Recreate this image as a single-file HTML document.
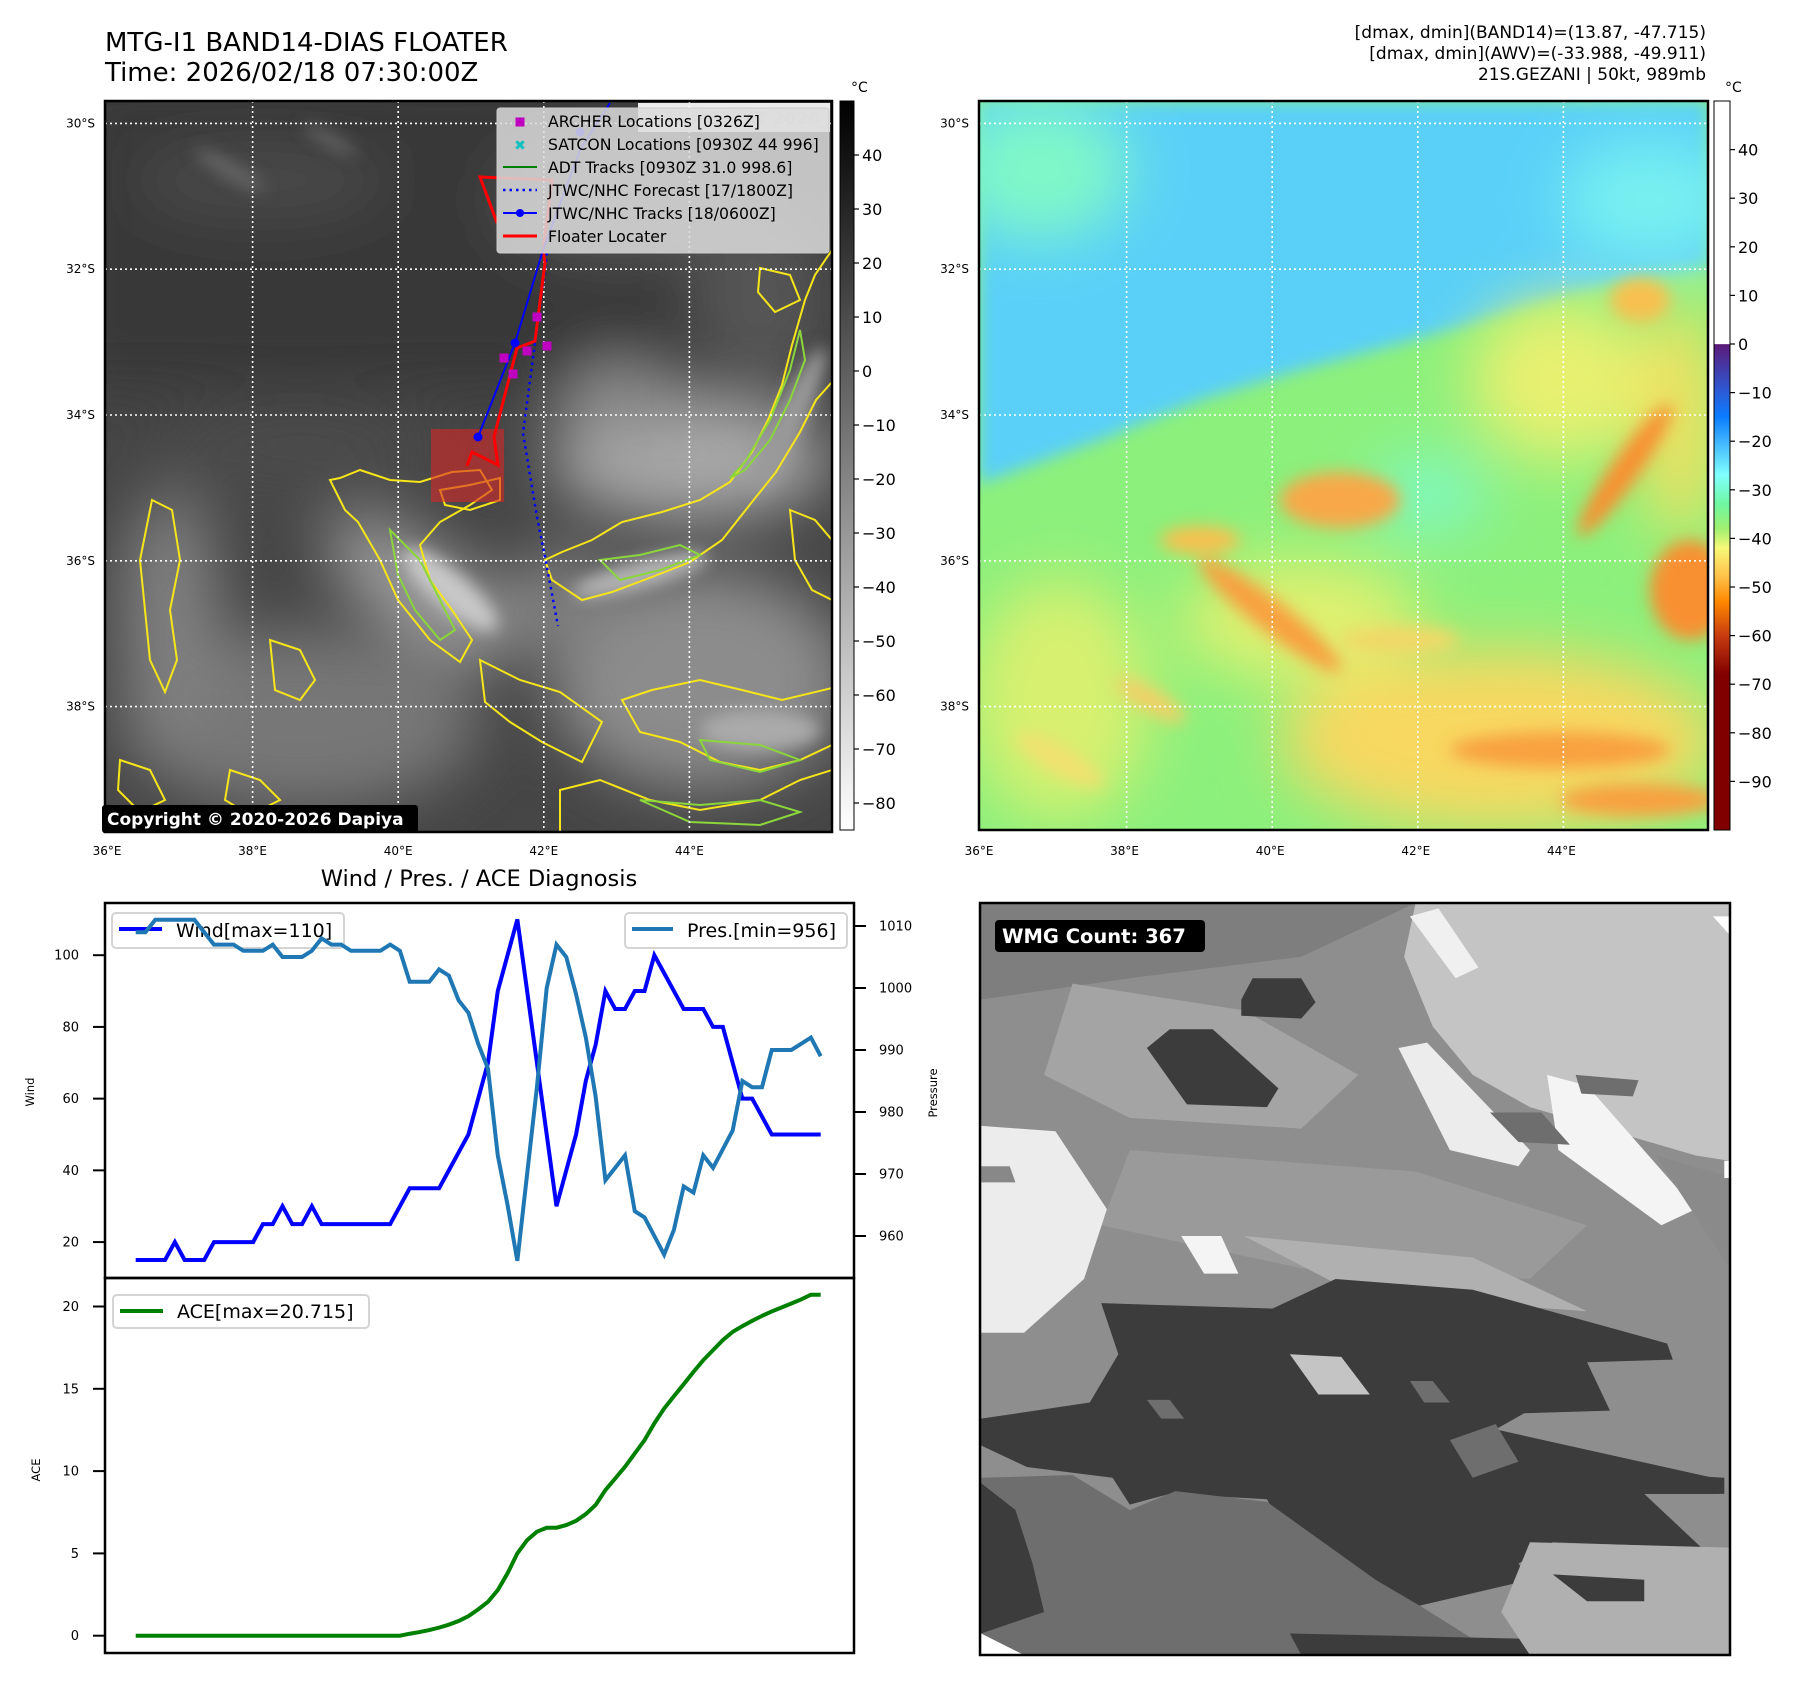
<!DOCTYPE html>
<html><head><meta charset="utf-8"><style>
html,body{margin:0;padding:0;background:#fff;}
svg{display:block;font-family:"DejaVu Sans","Liberation Sans",sans-serif;}
</style></head><body>
<svg id="fig" width="1797" height="1690" viewBox="0 0 1797 1690" xmlns="http://www.w3.org/2000/svg">
<defs>
<filter id="bl8" x="-50%" y="-50%" width="200%" height="200%"><feGaussianBlur stdDeviation="8"/></filter>
<filter id="bl30" x="-50%" y="-50%" width="200%" height="200%"><feGaussianBlur stdDeviation="30"/></filter>
<clipPath id="clipL"><rect x="105" y="101" width="727" height="731"/></clipPath>
<clipPath id="clipR"><rect x="979" y="101" width="729" height="729"/></clipPath>
<linearGradient id="cbL" x1="0" y1="0" x2="0" y2="1"><stop offset="0" stop-color="#000"/><stop offset="1" stop-color="#fff"/></linearGradient>
<linearGradient id="cbR" x1="0" y1="0" x2="0" y2="1">
<stop offset="0" stop-color="#fff"/><stop offset="0.333" stop-color="#fff"/><stop offset="0.334" stop-color="#5c1a7a"/>
<stop offset="0.4" stop-color="#2a5cd8"/><stop offset="0.433" stop-color="#0a7cff"/><stop offset="0.467" stop-color="#40b4ff"/>
<stop offset="0.513" stop-color="#80ffff"/><stop offset="0.553" stop-color="#70f8a0"/><stop offset="0.587" stop-color="#a0f070"/>
<stop offset="0.613" stop-color="#f8f878"/><stop offset="0.653" stop-color="#ffc048"/><stop offset="0.687" stop-color="#ff8800"/>
<stop offset="0.733" stop-color="#c83c10"/><stop offset="0.787" stop-color="#800000"/><stop offset="1" stop-color="#800000"/>
</linearGradient>
</defs>

<text x="105" y="51" font-size="26">MTG-I1 BAND14-DIAS FLOATER</text>
<text x="105" y="81" font-size="26">Time: 2026/02/18 07:30:00Z</text>
<g font-size="17" text-anchor="end">
<text x="1706" y="38">[dmax, dmin](BAND14)=(13.87, -47.715)</text>
<text x="1706" y="59">[dmax, dmin](AWV)=(-33.988, -49.911)</text>
<text x="1706" y="80">21S.GEZANI | 50kt, 989mb</text>
</g>

<g clip-path="url(#clipL)">
<rect x="105" y="101" width="727" height="731" fill="#464646"/>
<g filter="url(#bl30)">
<rect x="60" y="60" width="820" height="330" fill="#383838"/>
<ellipse cx="690" cy="460" rx="140" ry="60" fill="#a8a8a8"/>
<ellipse cx="620" cy="400" rx="60" ry="40" fill="#8a8a8a"/>
<ellipse cx="420" cy="590" rx="110" ry="45" fill="#9c9c9c" transform="rotate(35 420 590)"/>
<ellipse cx="700" cy="680" rx="150" ry="110" fill="#8c8c8c"/>
<ellipse cx="300" cy="720" rx="180" ry="90" fill="#777"/>
<ellipse cx="170" cy="620" rx="50" ry="130" fill="#808080"/>
<ellipse cx="560" cy="600" rx="60" ry="50" fill="#7e7e7e"/>
<ellipse cx="760" cy="300" rx="70" ry="90" fill="#555"/>
<ellipse cx="260" cy="180" rx="130" ry="40" fill="#4a4a4a"/>
<ellipse cx="620" cy="200" rx="120" ry="60" fill="#555"/>
<ellipse cx="300" cy="450" rx="140" ry="40" fill="#4c4c4c"/>
</g>
<g filter="url(#bl8)">
<ellipse cx="230" cy="170" rx="40" ry="7" fill="#6a6a6a" transform="rotate(30 230 170)"/>
<ellipse cx="330" cy="140" rx="30" ry="6" fill="#666" transform="rotate(30 330 140)"/>
<ellipse cx="450" cy="590" rx="60" ry="18" fill="#c8c8c8" transform="rotate(40 450 590)"/>
<ellipse cx="640" cy="575" rx="70" ry="14" fill="#b4b4b4" transform="rotate(-15 640 575)"/>
<ellipse cx="790" cy="420" rx="14" ry="80" fill="#9a9a9a" transform="rotate(25 790 420)"/>
<ellipse cx="760" cy="730" rx="60" ry="20" fill="#aaa"/>
</g>
<g fill="none" stroke="#f5e51a" stroke-width="2">
<path d="M832,250 L815,275 L805,300 L792,345 L782,385 L768,420 L752,452 L730,482 L700,500 L662,512 L622,522 L592,540 L562,552 L545,560 L552,580 L582,600 L612,592 L652,577 L690,562 L722,540 L752,502 L776,472 L800,432 L816,400 L832,382 Z"/>
<path d="M330,480 L345,510 L358,522 L380,560 L398,600 L430,640 L460,662 L472,640 L452,610 L430,580 L420,545 L440,522 L470,505 L492,490 L480,470 L452,472 L420,482 L390,480 L360,470 L340,478 Z"/>
<path d="M152,500 L140,560 L146,620 L150,660 L165,692 L177,660 L170,610 L180,560 L172,510 Z"/>
<path d="M622,700 L652,690 L700,680 L742,690 L782,700 L832,688 L832,745 L800,760 L760,770 L720,762 L680,742 L640,732 Z"/>
<path d="M480,660 L520,680 L560,692 L602,722 L582,762 L542,742 L510,722 L485,702 Z"/>
<path d="M760,268 L790,275 L800,300 L775,312 L758,292 Z"/>
<path d="M440,490 L470,485 L500,478 L500,500 L470,510 L445,505 Z"/>
<path d="M270,640 L300,650 L315,680 L300,700 L275,690 Z"/>
<path d="M120,760 L150,770 L165,800 L140,812 L118,790 Z"/>
<path d="M560,790 L600,780 L650,800 L700,810 L760,800 L800,780 L832,770 L832,832 L560,832 Z"/>
<path d="M230,770 L260,780 L280,800 L250,815 L225,800 Z"/>
<path d="M790,510 L815,520 L832,540 L832,600 L812,590 L795,560 Z"/>
</g>
<g fill="none" stroke="#8bd63a" stroke-width="2">
<path d="M390,530 L420,560 L440,600 L455,630 L440,640 L415,610 L398,575 Z"/>
<path d="M800,330 L790,370 L770,420 L745,462 L730,478 L745,470 L770,440 L790,400 L805,360 Z"/>
<path d="M600,560 L640,555 L680,545 L700,555 L660,570 L620,580 Z"/>
<path d="M700,740 L760,745 L800,760 L760,772 L710,760 Z"/>
<path d="M640,800 L700,805 L760,800 L800,812 L760,825 L690,822 Z"/>
</g>
<g stroke="#fff" stroke-width="1.6" stroke-dasharray="2 3">
<line x1="252.6" y1="101" x2="252.6" y2="832"/><line x1="398.2" y1="101" x2="398.2" y2="832"/><line x1="543.8" y1="101" x2="543.8" y2="832"/><line x1="689.4" y1="101" x2="689.4" y2="832"/>
<line x1="105" y1="123.4" x2="832" y2="123.4"/><line x1="105" y1="269.2" x2="832" y2="269.2"/><line x1="105" y1="415" x2="832" y2="415"/><line x1="105" y1="560.8" x2="832" y2="560.8"/><line x1="105" y1="706.6" x2="832" y2="706.6"/>
</g>
<rect x="431" y="429" width="73" height="73" fill="rgb(215,40,40)" fill-opacity="0.6"/>
<polyline points="547,253 535,343 523,433 537,517 545,557 558,626" fill="none" stroke="#0000ff" stroke-width="2.5" stroke-dasharray="2.5 4"/>
<polyline points="467,466 472,452 498,465 494,437 517,348 535,341 545,263 543,250 552,180 480,177 497,223 485,190" fill="none" stroke="#ff0000" stroke-width="3"/>
<polyline points="478,437 515,343 543,250 580,150 610,103" fill="none" stroke="#0000ff" stroke-width="2"/>
<circle cx="478" cy="437" r="4.5" fill="#0000ff"/><circle cx="515" cy="343" r="4.5" fill="#0000ff"/><circle cx="580" cy="132" r="4.5" fill="#0000ff"/>
<g fill="#c000c0">
<rect x="532.5" y="312.5" width="9" height="9"/><rect x="542.5" y="341.5" width="9" height="9"/><rect x="522.5" y="346.5" width="9" height="9"/><rect x="499.5" y="353.5" width="9" height="9"/><rect x="508.5" y="369.5" width="9" height="9"/>
</g>
<rect x="638" y="103" width="192" height="29" fill="#fff" fill-opacity="0.9"/>
<text x="820" y="124" font-size="17" font-weight="bold" fill="#ddd" text-anchor="end">© EUMETSAT 2026</text>
</g>
<g>
<rect x="497" y="108" width="332" height="145" rx="3" fill="#dcdcdc" fill-opacity="0.85" stroke="#ccc"/>
<rect x="515.5" y="117.5" width="9" height="9" fill="#c000c0"/>
<text x="520" y="150" font-size="14" fill="#10c0c0" text-anchor="middle" font-weight="bold">✖</text>
<line x1="503" y1="167" x2="537" y2="167" stroke="#008000" stroke-width="2"/>
<line x1="503" y1="190" x2="537" y2="190" stroke="#0000ff" stroke-width="2.5" stroke-dasharray="2.5 4"/>
<line x1="503" y1="213" x2="537" y2="213" stroke="#0000ff" stroke-width="2"/><circle cx="520" cy="213" r="4" fill="#0000ff"/>
<line x1="503" y1="236" x2="537" y2="236" stroke="#ff0000" stroke-width="3"/>
<g font-size="15.7" fill="#000">
<text x="548" y="127">ARCHER Locations [0326Z]</text>
<text x="548" y="150">SATCON Locations [0930Z 44 996]</text>
<text x="548" y="173">ADT Tracks [0930Z 31.0 998.6]</text>
<text x="548" y="196">JTWC/NHC Forecast [17/1800Z]</text>
<text x="548" y="219">JTWC/NHC Tracks [18/0600Z]</text>
<text x="548" y="242">Floater Locater</text>
</g>
</g>
<rect x="105" y="101" width="727" height="731" fill="none" stroke="#000" stroke-width="2.5"/>
<rect x="102" y="805" width="316" height="28" rx="3" fill="#000"/>
<text x="107" y="825" font-size="17" font-weight="bold" fill="#fff">Copyright © 2020-2026 Dapiya</text>
<rect x="840" y="101" width="14" height="729" fill="url(#cbL)" stroke="#000" stroke-width="1"/>
<text x="851" y="92" font-size="14">°C</text>
<g id="cbLticks" font-size="16"></g>

<g clip-path="url(#clipR)">
<rect x="979" y="101" width="729" height="729" fill="#8cf07c"/>
<path d="M979,101 L1708,101 L1708,265 L1600,285 L1450,330 L1300,370 L1200,400 L1100,440 L979,484 Z" fill="#5ad0f8" filter="url(#bl8)"/>
<g filter="url(#bl30)">
<ellipse cx="1040" cy="170" rx="90" ry="70" fill="#80f8c8"/>
<ellipse cx="1650" cy="200" rx="90" ry="60" fill="#78f0f0"/>
<ellipse cx="1428" cy="495" rx="60" ry="40" fill="#80f8c0"/>
<ellipse cx="1060" cy="700" rx="90" ry="120" fill="#d8f070"/>
<ellipse cx="1500" cy="740" rx="220" ry="90" fill="#f8d860"/>
<ellipse cx="1560" cy="380" rx="90" ry="80" fill="#e8f070"/>
<ellipse cx="1300" cy="620" rx="120" ry="60" fill="#e0f070"/>
<ellipse cx="1680" cy="420" rx="40" ry="120" fill="#f0e060"/>
</g>
<g filter="url(#bl8)">
<ellipse cx="1340" cy="500" rx="60" ry="28" fill="#f8a848"/>
<ellipse cx="1270" cy="615" rx="90" ry="16" fill="#f8a040" transform="rotate(38 1270 615)"/>
<ellipse cx="1625" cy="470" rx="14" ry="80" fill="#f89030" transform="rotate(35 1625 470)"/>
<ellipse cx="1690" cy="590" rx="40" ry="50" fill="#f89030"/>
<ellipse cx="1560" cy="750" rx="110" ry="18" fill="#f8a040"/>
<ellipse cx="1640" cy="800" rx="80" ry="16" fill="#f8a040"/>
<ellipse cx="1640" cy="300" rx="30" ry="22" fill="#f8c050"/>
<ellipse cx="1200" cy="540" rx="40" ry="14" fill="#f8c050"/>
<ellipse cx="1060" cy="760" rx="50" ry="14" fill="#f0e070" transform="rotate(30 1060 760)"/>
<ellipse cx="1150" cy="700" rx="40" ry="12" fill="#f0d068" transform="rotate(30 1150 700)"/>
<ellipse cx="1400" cy="640" rx="60" ry="14" fill="#f0d868"/>
</g>
<g stroke="#fff" stroke-width="1.6" stroke-dasharray="2 3">
<line x1="1126.6" y1="101" x2="1126.6" y2="830"/><line x1="1272.2" y1="101" x2="1272.2" y2="830"/><line x1="1417.8" y1="101" x2="1417.8" y2="830"/><line x1="1563.4" y1="101" x2="1563.4" y2="830"/>
<line x1="979" y1="123.4" x2="1708" y2="123.4"/><line x1="979" y1="269.2" x2="1708" y2="269.2"/><line x1="979" y1="415" x2="1708" y2="415"/><line x1="979" y1="560.8" x2="1708" y2="560.8"/><line x1="979" y1="706.6" x2="1708" y2="706.6"/>
</g>
</g>
<rect x="979" y="101" width="729" height="729" fill="none" stroke="#000" stroke-width="2.5"/>
<rect x="1714" y="101" width="16" height="729" fill="url(#cbR)" stroke="#000" stroke-width="1"/>
<text x="1725" y="92" font-size="14">°C</text>
<g id="cbRticks" font-size="16"></g>
<g id="mapTicks" font-size="12"></g>

<text x="479" y="886" font-size="22.5" text-anchor="middle">Wind / Pres. / ACE Diagnosis</text>

<svg x="980" y="903" width="750" height="752" viewBox="138 100 1312 1400" preserveAspectRatio="none">
<rect x="138" y="100" width="1312" height="1400" fill="#8e8e8e"/>
<polygon points="138,100 900,100 700,200 400,240 138,280" fill="#7e7e7e"/>
<polygon points="300,250 600,300 800,420 700,520 400,500 250,420" fill="#a4a4a4"/>
<polygon points="400,560 900,600 1200,700 1100,800 700,780 350,700" fill="#9a9a9a"/>
<polygon points="600,720 1000,760 1200,860 800,830" fill="#b0b0b0"/>
<polygon points="900,100 1450,100 1450,580 1390,570 1100,480 1000,420 930,330 880,200" fill="#c4c4c4"/>
<polygon points="890,125 940,110 1010,220 970,240" fill="#f0f0f0"/>
<polygon points="870,370 920,360 1100,560 1080,590 960,560" fill="#ececec"/>
<polygon points="1130,420 1200,440 1390,670 1330,700 1150,560" fill="#f4f4f4"/>
<polygon points="1180,420 1290,430 1280,460 1190,455" fill="#6e6e6e"/>
<polygon points="1030,490 1120,490 1170,550 1080,545" fill="#6e6e6e"/>
<polygon points="1320,570 1450,610 1450,780 1400,700" fill="#8a8a8a"/>
<polygon points="140,515 270,525 360,670 320,800 215,900 140,900" fill="#ececec"/>
<polygon points="140,590 190,590 200,620 140,620" fill="#888"/>
<polygon points="490,720 560,720 590,790 530,790" fill="#f4f4f4"/>
<polygon points="470,335 545,335 660,445 640,480 500,475 430,370" fill="#3c3c3c"/>
<polygon points="615,240 700,240 725,285 700,315 595,310 595,280" fill="#3c3c3c"/>
<polygon points="350,845 650,855 760,800 1000,820 1170,870 1340,920 1350,950 1200,955 1240,1045 1090,1050 1040,1080 1420,1170 1430,1200 1300,1200 1400,1300 1140,1290 1080,1330 1100,1360 900,1410 840,1440 760,1460 640,1210 470,1200 400,1220 370,1170 220,1150 140,1110 140,1060 330,1030 380,940" fill="#3c3c3c"/>
<polygon points="680,940 770,945 820,1015 730,1015" fill="#c4c4c4"/>
<polygon points="890,990 930,990 960,1030 915,1030" fill="#6e6e6e"/>
<polygon points="430,1025 470,1025 495,1060 455,1060" fill="#6e6e6e"/>
<polygon points="960,1100 1040,1070 1080,1140 1000,1170" fill="#6e6e6e"/>
<polygon points="140,1170 300,1165 400,1230 480,1195 640,1215 830,1360 910,1410 1000,1470 1010,1500 140,1500" fill="#6e6e6e"/>
<polygon points="140,1180 200,1230 230,1330 250,1420 140,1460" fill="#3c3c3c"/>
<polygon points="680,1460 1100,1470 1100,1500 700,1500" fill="#3c3c3c"/>
<polygon points="1100,1290 1450,1300 1450,1500 1100,1500 1050,1420" fill="#b0b0b0"/>
<polygon points="1140,1350 1300,1360 1300,1400 1200,1400" fill="#3c3c3c"/>
<polygon points="1280,1160 1440,1170 1440,1200 1300,1200" fill="#3c3c3c"/>
<polygon points="140,1460 215,1500 140,1500" fill="#fff"/>
<polygon points="1420,125 1450,125 1450,160" fill="#fff"/>
<polygon points="1440,580 1450,580 1450,612 1440,612" fill="#fff"/>
</svg>
<rect x="980" y="903" width="750" height="752" fill="none" stroke="#000" stroke-width="2.5"/>
<rect x="995" y="920" width="210" height="32" rx="4" fill="#000"/>
<text x="1002" y="943" font-size="19.5" font-weight="bold" fill="#fff">WMG Count: 367</text>

<rect x="105" y="903" width="749" height="375" fill="none" stroke="#000" stroke-width="2.5"/>
<rect x="105" y="1278" width="749" height="375" fill="none" stroke="#000" stroke-width="2.5"/>
<g id="windG"></g>
<g id="aceG"></g>
<text transform="translate(34,1092) rotate(-90)" font-size="11.5" text-anchor="middle">Wind</text>
<text transform="translate(937,1093) rotate(-90)" font-size="11.5" text-anchor="middle">Pressure</text>
<text transform="translate(40,1470) rotate(-90)" font-size="11.5" text-anchor="middle">ACE</text>
</svg>
<script>
const NS='http://www.w3.org/2000/svg';
const windVals=[15,15,15,15,20,15,15,15,20,20,20,20,20,25,25,30,25,25,30,25,25,25,25,25,25,25,25,30,35,35,35,35,40,45,50,60,70,90,100,110,90,70,50,30,40,50,65,75,90,85,85,90,90,100,95,90,85,85,85,80,80,70,60,60,55,50,50,50,50,50,50];
const presVals=[1009,1009,1011,1011,1011,1011,1011,1009,1007,1007,1007,1006,1006,1006,1007,1005,1005,1005,1006,1008,1007,1007,1006,1006,1006,1006,1007,1006,1001,1001,1001,1003,1002,998,996,991,987,973,965,956,970,984,1000,1007,1005,999,992,982.5,969,971,973,964,963,960,957,961,968,967,973,971,974,977,985,984,984,990,990,990,991,992,989];
const aceVals=[0,0,0,0,0,0,0,0,0,0,0,0,0,0,0,0,0,0,0,0,0,0,0,0,0,0,0,0,0.12,0.22,0.34,0.49,0.67,0.89,1.19,1.6,2.06,2.77,3.79,5.0,5.81,6.32,6.56,6.56,6.72,6.98,7.39,7.94,8.85,9.55,10.26,11.07,11.88,12.9,13.8,14.55,15.28,16.03,16.74,17.35,17.96,18.46,18.81,19.13,19.43,19.7,19.94,20.18,20.43,20.715,20.715];
const windTicks=[20,40,60,80,100];
const presTicks=[960,970,980,990,1000,1010];
const aceTicks=[0,5,10,15,20];
const cbLTicks=[40,30,20,10,0,-10,-20,-30,-40,-50,-60,-70,-80];
const cbRTicks=[40,30,20,10,0,-10,-20,-30,-40,-50,-60,-70,-80,-90];
const latLabels=['30°S','32°S','34°S','36°S','38°S'];
const lonLabels=['36°E','38°E','40°E','42°E','44°E'];

const xIdx=i=>135.7+i*(685/70);
const yWind=v=>1313.8-3.586*v;
const yPres=p=>926+(1010-p)*6.2;
const yAce=a=>1635.7-16.46*a;
const yCbL=v=>101+(50-v)*(729/135);
const yCbR=v=>101+(50-v)*(729/150);

function mk(tag,attrs,parent,txt){const e=document.createElementNS(NS,tag);for(const k in attrs)e.setAttribute(k,attrs[k]);if(txt!==undefined)e.textContent=txt;parent.appendChild(e);return e;}
const minus=v=>v<0?'\u2212'+Math.abs(v):String(v);

const gL=document.getElementById('cbLticks');
cbLTicks.forEach(v=>{const y=yCbL(v);
 mk('line',{x1:854,y1:y,x2:859,y2:y,stroke:'#000','stroke-width':1.2},gL);
 const t=mk('text',{x:862,y:y+6},gL,minus(v));
 
 });
const gR=document.getElementById('cbRticks');
cbRTicks.forEach(v=>{const y=yCbR(v);
 mk('line',{x1:1730,y1:y,x2:1735,y2:y,stroke:'#000','stroke-width':1.2},gR);
 const t=mk('text',{x:1738,y:y+6},gR,minus(v));
 
 });

const gM=document.getElementById('mapTicks');
latLabels.forEach((s,k)=>{const y=123.4+k*145.8;
 [95,969].forEach(x=>{const t=mk('text',{x:x,y:y+4,'text-anchor':'end'},gM,s);
 
 });});
lonLabels.forEach((s,k)=>{
 [107,979].forEach(x0=>{const t=mk('text',{x:x0+k*145.6,y:855,'text-anchor':'middle'},gM,s);
 
 });});

const gW=document.getElementById('windG');
windTicks.forEach(v=>{const y=yWind(v);
 mk('line',{x1:93,y1:y,x2:105,y2:y,stroke:'#000','stroke-width':2},gW);
 const t=mk('text',{x:79,y:y+4.5,'text-anchor':'end','font-size':13},gW,String(v));
 
 });
presTicks.forEach(v=>{const y=yPres(v);
 mk('line',{x1:854,y1:y,x2:866,y2:y,stroke:'#000','stroke-width':2},gW);
 const t=mk('text',{x:879,y:y+4.5,'font-size':13},gW,String(v));
 
 });
const lw=mk('rect',{x:112,y:913,width:232,height:35,rx:4,fill:'#fff',stroke:'#d4d4d4','stroke-width':2},gW);


mk('line',{x1:119,y1:929,x2:162,y2:929,stroke:'#0000ff','stroke-width':4},gW);
mk('text',{x:176,y:937,'font-size':19},gW,'Wind[max=110]');
const wl=mk('polyline',{points:windVals.map((v,i)=>xIdx(i)+','+yWind(v)).join(' '),fill:'none',stroke:'#0000ff','stroke-width':4},gW);


const lp=mk('rect',{x:625,y:913,width:222,height:35,rx:4,fill:'#fff',stroke:'#d4d4d4','stroke-width':2},gW);


mk('line',{x1:632,y1:929,x2:673,y2:929,stroke:'#1f77b4','stroke-width':4},gW);
mk('text',{x:687,y:937,'font-size':19},gW,'Pres.[min=956]');
const pl=mk('polyline',{points:presVals.map((v,i)=>xIdx(i)+','+yPres(v)).join(' '),fill:'none',stroke:'#1f77b4','stroke-width':4},gW);



const gA=document.getElementById('aceG');
aceTicks.forEach(v=>{const y=yAce(v);
 mk('line',{x1:93,y1:y,x2:105,y2:y,stroke:'#000','stroke-width':2},gA);
 const t=mk('text',{x:79,y:y+4.5,'text-anchor':'end','font-size':13},gA,String(v));
 
 });
const la=mk('rect',{x:113,y:1295,width:256,height:33,rx:4,fill:'#fff',stroke:'#d4d4d4','stroke-width':2},gA);


mk('line',{x1:120,y1:1311,x2:163,y2:1311,stroke:'#008000','stroke-width':4},gA);
mk('text',{x:177,y:1318,'font-size':19},gA,'ACE[max=20.715]');
const al=mk('polyline',{points:aceVals.map((v,i)=>xIdx(i)+','+yAce(v)).join(' '),fill:'none',stroke:'#008000','stroke-width':4},gA);


</script>
</body></html>
